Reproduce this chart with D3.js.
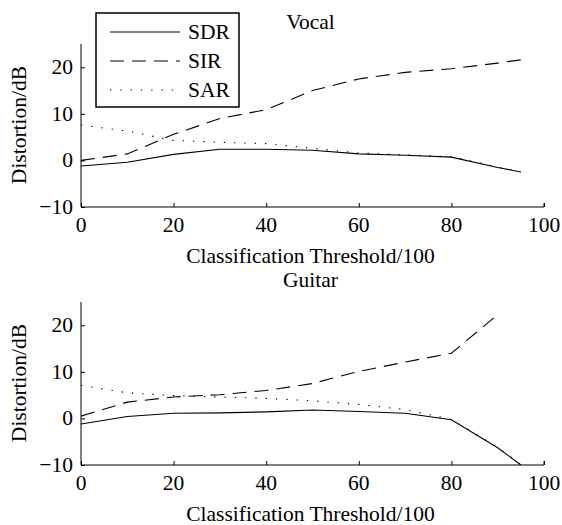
<!DOCTYPE html>
<html>
<head>
<meta charset="utf-8">
<script src="https://cdn.jsdelivr.net/npm/d3@7"></script>
<style>
  body { margin: 0; background: #fff; }
  text { font-family: "Liberation Serif", "Times New Roman", serif; fill: #000; }
</style>
</head>
<body>
<script>
// values
var thresholds = [0, 10, 20, 30, 40, 50, 60, 70, 80, 90, 95];

var vocalSDR = [-1.2, -0.4, 1.3, 2.4, 2.4, 2.2, 1.4, 1.1, 0.7, -1.5, -2.5];
var vocalSIR = [0.0, 1.4, 5.6, 9.0, 10.9, 15.0, 17.5, 18.9, 19.7, 20.9, 21.6];
var vocalSAR = [7.6, 6.3, 4.3, 3.9, 3.6, 2.6, 1.6, 1.2, 0.8, -1.4, -2.4];

var guitarSDR = [-1.2, 0.4, 1.1, 1.2, 1.4, 1.8, 1.5, 1.1, -0.3, -6.3, -10];
var guitarSIR = [0.5, 3.5, 4.6, 5.1, 6.0, 7.5, 10.1, 12.1, 14.0, 22.3, null]; // nothing shown at 95
var guitarSAR = [7.1, 5.5, 4.9, 4.6, 4.3, 3.8, 3.0, 1.9, -0.2, -6.2, -9.9];

var seriesNames = ["SDR", "SIR", "SAR"];
var xTicks = [0, 20, 40, 60, 80, 100];
var yTicks = [-10, 0, 10, 20];

var width = 562;
var height = 525;
var fontSize = "21.5px";
var dashes = {SDR: null, SIR: "14,8", SAR: "1.3,9"};

var svg = d3.select("body")
            .append("svg")
            .attr("width", width)
            .attr("height", height);

function drawPanel(title, top, sdr, sir, sar, id) {
  var left = 81, right = 544, bottom = top + 163;

  var x = d3.scaleLinear().domain([0, 100]).range([left, right]);
  var y = d3.scaleLinear().domain([-10, 25]).range([bottom, top]);

  svg.append("clipPath")
     .attr("id", id)
     .append("rect")
     .attr("x", left).attr("y", top)
     .attr("width", right - left).attr("height", bottom - top);

  var line = d3.line()
               .defined(function(d){ return d[1] != null; })
               .x(function(d){ return x(d[0]); })
               .y(function(d){ return y(d[1]); });

  var series = [sdr, sir, sar];
  series.forEach(function(vals, i){
    svg.append("path")
       .datum(thresholds.map(function(t, j){ return [t, vals[j]]; }))
       .attr("clip-path", "url(#" + id + ")")
       .attr("fill", "none")
       .attr("stroke", "#000")
       .attr("stroke-width", 1.1)
       .attr("stroke-dasharray", dashes[seriesNames[i]])
       .attr("d", line);
  });

  // x axis, ticks pointing inward like matlab
  var xAxis = d3.axisTop(x).tickValues(xTicks).tickSize(4).tickFormat("");
  svg.append("g")
     .attr("transform", "translate(0," + bottom + ")")
     .call(xAxis)
     .call(function(g){ g.select(".domain").attr("d", "M" + left + ",0H" + right + "V-4"); });

  var yAxis = d3.axisRight(y).tickValues(yTicks).tickSize(4).tickFormat("");
  svg.append("g")
     .attr("transform", "translate(" + left + ",0)")
     .call(yAxis)
     .call(function(g){ g.select(".domain").attr("d", "M0," + top + "V" + bottom); });

  svg.selectAll("path.domain, .tick line").attr("stroke", "#000").attr("stroke-width", 1);

  // tick labels
  svg.append("g").selectAll("text")
     .data(xTicks)
     .enter()
       .append("text")
       .attr("x", function(d){ return x(d); })
       .attr("y", bottom + 25)
       .attr("text-anchor", "middle")
       .style("font-size", fontSize)
       .text(function(d){ return d; });

  svg.append("g").selectAll("text")
     .data(yTicks)
     .enter()
       .append("text")
       .attr("x", left - 8)
       .attr("y", function(d){ return y(d) + 7; })
       .attr("text-anchor", "end")
       .style("font-size", fontSize)
       .text(function(d){ return d < 0 ? "\u2212" + Math.abs(d) : d; });

  // title and axis labels
  svg.append("text")
     .attr("x", (left + right) / 2 - 2)
     .attr("y", top - 15)
     .attr("text-anchor", "middle")
     .style("font-size", fontSize)
     .text(title);

  svg.append("text")
     .attr("x", (left + right) / 2 - 2)
     .attr("y", bottom + 56)
     .attr("text-anchor", "middle")
     .style("font-size", fontSize)
     .text("Classification Threshold/100");

  svg.append("text")
     .attr("transform", "translate(26," + (top + 81) + ") rotate(-90)")
     .attr("text-anchor", "middle")
     .style("font-size", fontSize)
     .text("Distortion/dB");
}

drawPanel("Vocal", 44, vocalSDR, vocalSIR, vocalSAR, "clipVocal");
drawPanel("Guitar", 302, guitarSDR, guitarSIR, guitarSAR, "clipGuitar");

// legend on the top panel
var legend = svg.append("g");
legend.append("rect")
      .attr("x", 96).attr("y", 13)
      .attr("width", 143).attr("height", 94)
      .attr("fill", "#fff")
      .attr("stroke", "#000")
      .attr("stroke-width", 1.5);

var rows = legend.selectAll("g.row")
                 .data(seriesNames)
                 .enter()
                   .append("g")
                   .attr("class", "row")
                   .attr("transform", function(d, i){ return "translate(0," + (32 + i * 29) + ")"; });

rows.append("line")
    .attr("x1", 110).attr("x2", 180)
    .attr("stroke", "#000")
    .attr("stroke-width", 1.1)
    .attr("stroke-dasharray", function(d){ return dashes[d]; });

rows.append("text")
    .attr("x", 188)
    .attr("y", 7)
    .style("font-size", fontSize)
    .text(function(d){ return d; });
</script>
</body>
</html>
